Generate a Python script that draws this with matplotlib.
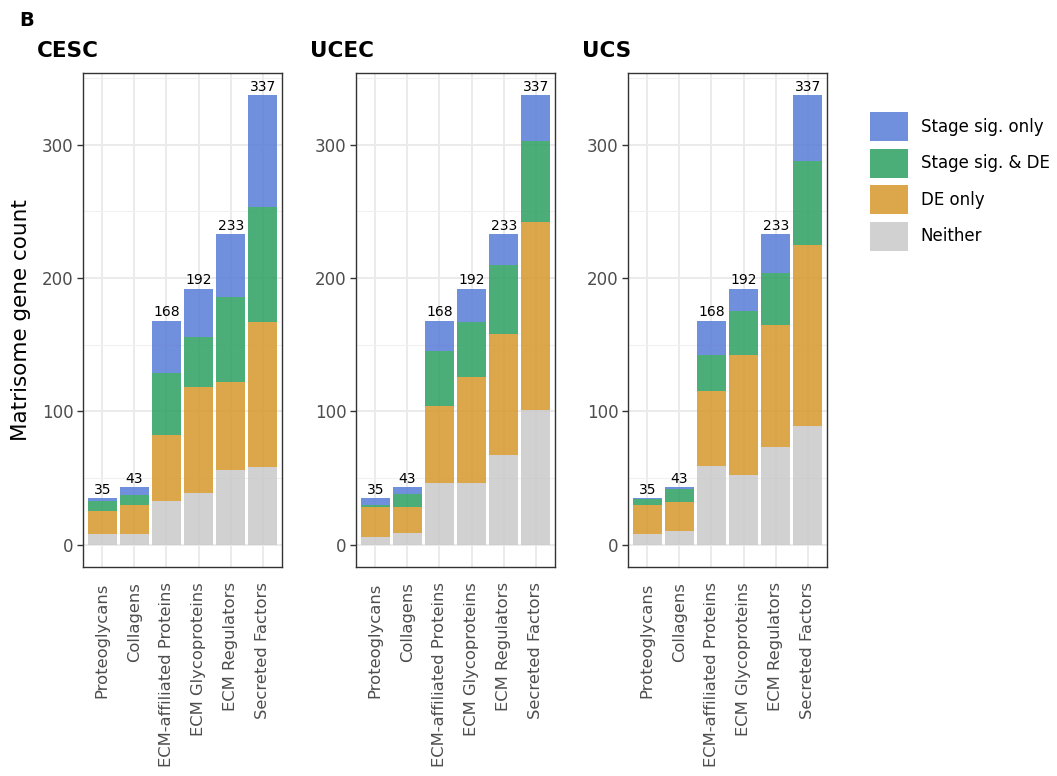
import numpy as np
import matplotlib
matplotlib.use("Agg")
import matplotlib.pyplot as plt
from matplotlib.patches import Patch

# categories and groups
categories = ["Proteoglycans", "Collagens", "ECM-affiliated Proteins",
              "ECM Glycoproteins", "ECM Regulators", "Secreted Factors"]
cancers = ["CESC", "UCEC", "UCS"]
groups = ["Neither", "DE only", "Stage sig. & DE", "Stage sig. only"]

# counts per category (stack order: Neither, DE only, Stage sig. & DE, Stage sig. only)
cesc_neither = [8, 8, 33, 39, 56, 58]
cesc_de = [17, 22, 49, 79, 66, 109]
cesc_both = [8, 7, 47, 38, 64, 86]
cesc_stage = [2, 6, 39, 36, 47, 84]

ucec_neither = [6, 9, 46, 46, 67, 101]
ucec_de = [22, 19, 58, 80, 91, 141]
ucec_both = [2, 10, 41, 41, 52, 61]
ucec_stage = [5, 5, 23, 25, 23, 34]

ucs_neither = [8, 10, 59, 52, 73, 89]
ucs_de = [22, 22, 56, 90, 92, 136]
ucs_both = [4, 10, 27, 33, 39, 63]
ucs_stage = [1, 1, 26, 17, 29, 49]

data = {
    "CESC": [cesc_neither, cesc_de, cesc_both, cesc_stage],
    "UCEC": [ucec_neither, ucec_de, ucec_both, ucec_stage],
    "UCS": [ucs_neither, ucs_de, ucs_both, ucs_stage],
}

colors = ["#C9C9C9", "#D6982A", "#2BA062", "#577BD7"]
alpha = 0.85

W, H = 1057, 776
fig = plt.figure(figsize=(W / 100, H / 100), dpi=100)

lefts = [83, 356, 628]
ax_w = 199
ax_top, ax_bot = 73, 567

x = np.arange(len(categories))
for i, cancer in enumerate(cancers):
    ax = fig.add_axes([lefts[i] / W, (H - ax_bot) / H, ax_w / W, (ax_bot - ax_top) / H])
    bottom = np.zeros(len(categories))
    for g, vals in enumerate(data[cancer]):
        vals = np.array(vals)
        ax.bar(x, vals, 0.9, bottom=bottom, color=colors[g], alpha=alpha,
               linewidth=0, zorder=3)
        bottom = bottom + vals
    for xi, tot in zip(x, bottom):
        ax.text(xi, tot + 1.0, str(int(tot)), ha="center", va="bottom",
                fontsize=10, color="black", zorder=4)

    ax.set_xlim(-0.6, len(categories) - 0.4)
    ax.set_ylim(-16.85, 353.85)
    ax.set_xticks(x)
    ax.set_xticklabels(categories, rotation=90, fontsize=11.8, color="#4D4D4D")
    ax.set_yticks([0, 100, 200, 300])
    ax.set_yticks([50, 150, 250, 350], minor=True)
    ax.tick_params(axis="y", which="major", length=4, width=1, color="#333333",
                   labelsize=12, labelcolor="#4D4D4D", pad=3)
    ax.tick_params(axis="y", which="minor", length=0)
    ax.tick_params(axis="x", length=0, pad=11)
    ax.grid(which="major", color="#EBEBEB", linewidth=1.4, zorder=0)
    ax.grid(which="minor", axis="y", color="#F0F0F0", linewidth=0.8, zorder=0)
    ax.set_axisbelow(True)
    for s in ax.spines.values():
        s.set_color("#333333")
        s.set_linewidth(1)
    fig.text((lefts[i] - 46) / W, 1 - 51 / H, cancer, fontsize=15.5,
             fontweight="bold", ha="left", va="center")
    if i == 0:
        ax.set_ylabel("Matrisome gene count", fontsize=15.5, labelpad=8)

fig.text(19 / W, 1 - 20 / H, "B", fontsize=14, fontweight="bold",
         ha="left", va="center")

handles = [Patch(facecolor=colors[g], alpha=alpha, edgecolor="none")
           for g in [3, 2, 1, 0]]
labels = [groups[g] for g in [3, 2, 1, 0]]
fig.legend(handles, labels, loc="upper left",
           bbox_to_anchor=(870 / W, 1 - 112 / H), frameon=False,
           fontsize=12, handlelength=2.3, handleheight=2.3,
           labelspacing=0.45, handletextpad=0.75, borderaxespad=0,
           borderpad=0)

fig.savefig("out.png", dpi=100)
